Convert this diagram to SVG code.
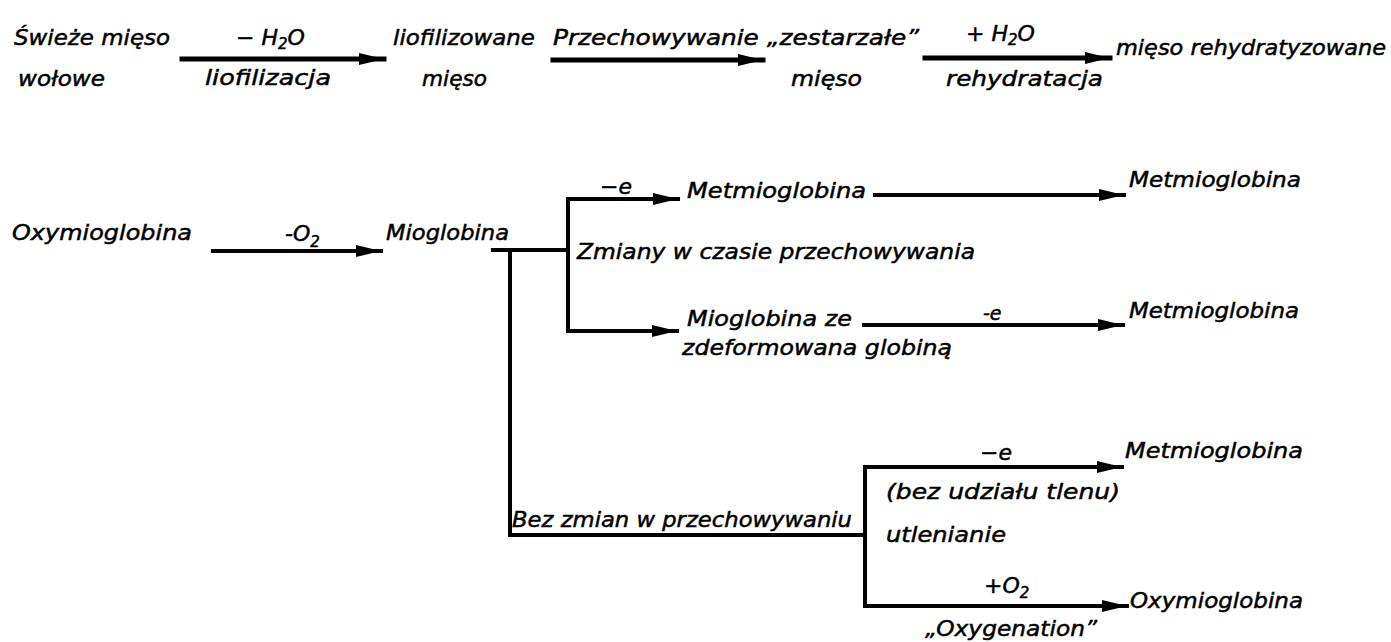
<svg xmlns="http://www.w3.org/2000/svg" width="1391" height="642" viewBox="0 0 1391 642">
<defs>
<marker id="ah" markerUnits="userSpaceOnUse" markerWidth="26" markerHeight="14" refX="25" refY="7" orient="auto">
<path d="M0,1 L25,7 L0,13 z" fill="#000"/>
</marker>
<style>
text{font-family:"DejaVu Sans","Liberation Sans",sans-serif;font-style:italic;font-size:22px;fill:#000;stroke:#000;stroke-width:0.5}
.sm{font-size:19px}
.sub{font-size:15px}
.c{fill:none;stroke:#000;stroke-width:4;stroke-linecap:square}
.thick{stroke-width:5}
.a{marker-end:url(#ah)}
</style>
</defs>
<rect width="1391" height="642" fill="#fff"/>
<g id="connectors">
<line class="c thick a" x1="182" y1="59" x2="384" y2="59"/>
<line class="c thick a" x1="553" y1="60" x2="763" y2="60"/>
<line class="c thick a" x1="925" y1="58" x2="1110" y2="58"/>
<line class="c a" x1="213" y1="251" x2="381" y2="251"/>
<line class="c" x1="493" y1="250" x2="568" y2="250"/>
<line class="c" x1="510" y1="250" x2="510" y2="535"/>
<line class="c" x1="568" y1="199" x2="568" y2="331"/>
<line class="c a" x1="568" y1="199" x2="678" y2="199"/>
<line class="c a" x1="568" y1="331" x2="677" y2="331"/>
<line class="c a" x1="875" y1="195" x2="1124" y2="195"/>
<line class="c a" x1="864" y1="325" x2="1123" y2="325"/>
<line class="c" x1="510" y1="535" x2="865" y2="535"/>
<line class="c" x1="865" y1="467" x2="865" y2="606"/>
<line class="c a" x1="865" y1="467" x2="1122" y2="467"/>
<line class="c a" x1="865" y1="606" x2="1127" y2="606"/>
</g>
<g id="n-swieze"><text x="14" y="45" textLength="156" lengthAdjust="spacingAndGlyphs">Świeże mięso</text><text x="18" y="86" textLength="87" lengthAdjust="spacingAndGlyphs">wołowe</text></g>
<g id="l-h2o-minus"><text x="236" y="45">− H<tspan class="sub" dy="4">2</tspan><tspan dy="-4">O</tspan></text><text x="205" y="85" textLength="126" lengthAdjust="spacingAndGlyphs">liofilizacja</text></g>
<g id="n-liofil"><text x="393" y="45" textLength="142" lengthAdjust="spacingAndGlyphs">liofilizowane</text><text x="422" y="86" textLength="65" lengthAdjust="spacingAndGlyphs">mięso</text></g>
<g id="n-zestarzale"><text x="553" y="45" textLength="366" lengthAdjust="spacingAndGlyphs">Przechowywanie „zestarzałe”</text><text x="791" y="86" textLength="71" lengthAdjust="spacingAndGlyphs">mięso</text></g>
<g id="l-h2o-plus"><text x="966" y="41">+ H<tspan class="sub" dy="4">2</tspan><tspan dy="-4">O</tspan></text><text x="946" y="86" textLength="157" lengthAdjust="spacingAndGlyphs">rehydratacja</text></g>
<g id="n-rehydr"><text x="1116" y="55" textLength="270" lengthAdjust="spacingAndGlyphs">mięso rehydratyzowane</text></g>
<g id="n-oxy1"><text x="12" y="240" textLength="180" lengthAdjust="spacingAndGlyphs">Oxymioglobina</text></g>
<g id="l-o2minus"><text x="285" y="241">-O<tspan class="sub" dy="6">2</tspan></text></g>
<g id="n-miogl"><text x="386" y="240" textLength="123" lengthAdjust="spacingAndGlyphs">Mioglobina</text></g>
<g id="l-e1"><text x="600" y="194">−e</text></g>
<g id="n-met1"><text x="687" y="198" textLength="179" lengthAdjust="spacingAndGlyphs">Metmioglobina</text></g>
<g id="n-met2"><text x="1129" y="187" textLength="172" lengthAdjust="spacingAndGlyphs">Metmioglobina</text></g>
<g id="l-zmiany"><text x="577" y="259" textLength="398" lengthAdjust="spacingAndGlyphs">Zmiany w czasie przechowywania</text></g>
<g id="n-miogl-def"><text x="687" y="326" textLength="165" lengthAdjust="spacingAndGlyphs">Mioglobina ze</text><text x="682" y="355" textLength="270" lengthAdjust="spacingAndGlyphs">zdeformowana globiną</text></g>
<g id="l-e2"><text class="sm" x="983" y="320">-e</text></g>
<g id="n-met3"><text x="1129" y="318" textLength="170" lengthAdjust="spacingAndGlyphs">Metmioglobina</text></g>
<g id="l-bez"><text x="512" y="527" textLength="340" lengthAdjust="spacingAndGlyphs">Bez zmian w przechowywaniu</text></g>
<g id="l-e3"><text x="980" y="460">−e</text></g>
<g id="n-met4"><text x="1125" y="458" textLength="178" lengthAdjust="spacingAndGlyphs">Metmioglobina</text></g>
<g id="l-bezudz"><text x="886" y="499" textLength="234" lengthAdjust="spacingAndGlyphs">(bez udziału tlenu)</text><text x="886" y="542" textLength="120" lengthAdjust="spacingAndGlyphs">utlenianie</text></g>
<g id="l-o2plus"><text x="984" y="593">+O<tspan class="sub" dy="5">2</tspan></text></g>
<g id="n-oxy2"><text x="1130" y="608" textLength="173" lengthAdjust="spacingAndGlyphs">Oxymioglobina</text></g>
<g id="l-oxygenation"><text x="925" y="636" textLength="172" lengthAdjust="spacingAndGlyphs">„Oxygenation”</text></g>
</svg>
